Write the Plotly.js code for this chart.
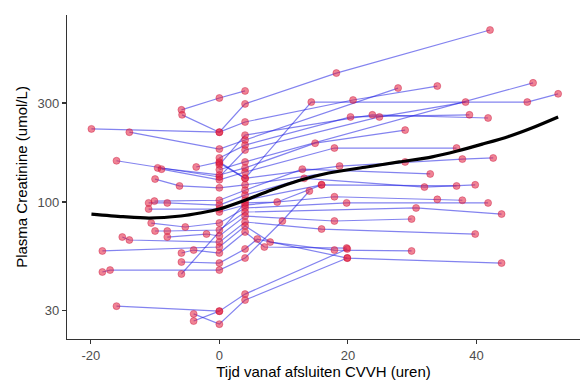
<!DOCTYPE html>
<html>
<head>
<meta charset="utf-8">
<script src="https://cdn.plot.ly/plotly-3.0.1.min.js"></script>
<style>html,body{margin:0;padding:0;background:#fff}#chart{width:580px;height:381px}</style>
</head>
<body>
<div id="chart"></div>
<script>
// Per-patient measurement times (hours from stopping CVVH)
var patientTimes = [
  [-5.9, 0, 4],
  [-5.8, 0, 4, 18.2, 42.1],
  [-19.9, 0, 4, 20.8, 33.9],
  [-14.0, 0, 4, 27.8],
  [0, 4, 14.3, 47.9, 52.7],
  [-16.0, 0, 4, 24.9, 38.3],
  [0, 4, 48.8],
  [0, 4, 20.4, 38.9],
  [0, 4, 23.8, 41.8],
  [-9.6, 0, 4, 14.9, 28.9],
  [-9.0, 0, 4, 17.9, 36.9],
  [-3.6, 0, 4, 18.7, 37.8, 42.6],
  [-10.0, -6.2, 0, 4, 28.9],
  [-10.1, 0, 4, 12.9, 32.8],
  [-11.0, -8.1, 0, 4, 13.2, 31.9, 39.8],
  [-11.0, 0, 4, 15.9, 36.9],
  [0, 4, 17.9, 33.9, 37.8],
  [-10.6, -5.3, 0, 4, 19.8, 41.8],
  [-10.0, -8.1, 0, 4, 30.6, 43.9],
  [-8.1, -2.0, 0, 4, 17.9, 29.9],
  [-15.1, -14.0, 0, 4, 15.9, 39.8],
  [-18.2, 0, 4, 7.9, 17.9, 29.9],
  [-5.9, -4.0, 0, 4, 7.0, 19.8],
  [-5.9, 0, 4, 5.9, 19.9, 43.9],
  [-18.2, -17.0, 0, 4, 9.8, 14.0],
  [-5.9, 4, 9.0, 15.9],
  [-16.0, 0, 4, 19.9],
  [-4.0, 0, 4, 19.9],
  [-4.0, 0]
];
// Per-patient plasma creatinine (umol/L)
var patientCreat = [
  [278, 317, 343],
  [263, 217, 297, 418, 674],
  [225, 217, 243, 310, 362],
  [217, 180, 199, 354],
  [154, 130, 303, 303, 332],
  [158, 132, 178, 257, 303],
  [143, 156, 375],
  [163, 188, 257, 263],
  [151, 210, 263, 254],
  [146, 135, 146, 192, 222],
  [144, 128, 139.5, 182, 182],
  [147.5, 156, 130, 149, 161, 163],
  [129, 119.5, 117, 121, 156],
  [101, 102, 114, 144, 136.5],
  [99, 99, 96.7, 108, 130, 118, 121],
  [92.5, 92.5, 102, 121, 119.5],
  [89.5, 96.7, 106, 103, 102],
  [79.2, 75.8, 79.2, 93.6, 99, 99],
  [72.5, 72.5, 73.3, 89.5, 93.6, 87.5],
  [67.8, 70.1, 68.6, 85.6, 81, 82.8],
  [67.8, 65.6, 64.1, 80.1, 74.1, 70.1],
  [58.1, 60.7, 76.6, 64.1, 58.7, 58.1],
  [56.8, 58.7, 56.8, 71.7, 60.7, 60.0],
  [51.4, 50.8, 59.4, 66.3, 53.7, 50.8],
  [46, 47, 47, 53.7, 81, 113],
  [45, 99, 100, 121],
  [31.5, 29.8, 36, 59.4],
  [28.9, 25.8, 33.7, 53.7],
  [26.7, 29.8]
];
// Smoothed trend
var smoothTime = [-19.9, -15, -10.9, -6, -3, 0, 4, 8, 12.4, 17, 22.9, 28, 33.1, 37, 40.9, 45, 48.7, 52.7];
var smoothCreat = [87.5, 85, 83.7, 85.6, 88.5, 92.5, 102, 114, 127, 138, 147.5, 156, 165, 176, 190, 207, 228, 257];

var xTicks = [-20, 0, 20, 40];
var xTickText = ['-20', '0', '20', '40'];
var yTicks = [30, 100, 300];
var yTickText = ['30', '100', '300'];

var traces = [];
for (var i = 0; i < patientTimes.length; i++) {
  traces.push({
    x: patientTimes[i], y: patientCreat[i], type: 'scatter', mode: 'lines',
    line: {color: 'rgba(30,30,225,0.55)', width: 1.2},
    hoverinfo: 'skip', showlegend: false
  });
}
for (var j = 0; j < patientTimes.length; j++) {
  traces.push({
    x: patientTimes[j], y: patientCreat[j], type: 'scatter', mode: 'markers',
    marker: {size: 7, color: 'rgba(228,30,60,0.55)', line: {color: 'rgba(200,20,60,0.5)', width: 0.8}},
    showlegend: false
  });
}
traces.push({
  x: smoothTime, y: smoothCreat, type: 'scatter', mode: 'lines',
  line: {color: '#000', width: 3.2, shape: 'spline', smoothing: 0.8},
  showlegend: false
});

var layout = {
  width: 580, height: 381,
  margin: {l: 67, r: 0, t: 15, b: 42},
  paper_bgcolor: '#fff', plot_bgcolor: '#fff',
  font: {family: 'Liberation Sans, Arial, sans-serif'},
  xaxis: {
    range: [-23.7, 56.1], tickvals: xTicks, ticktext: xTickText,
    showgrid: false, zeroline: false, showline: true, linecolor: '#333', linewidth: 1.2,
    ticks: 'outside', ticklen: 4, tickcolor: '#333', tickwidth: 1.1,
    tickfont: {size: 13, color: '#4d4d4d'},
    title: {text: 'Tijd vanaf afsluiten CVVH (uren)', font: {size: 15, color: '#000'}, standoff: 4}
  },
  yaxis: {
    type: 'log', range: [1.340, 2.901], tickvals: yTicks, ticktext: yTickText,
    showgrid: false, zeroline: false, showline: true, linecolor: '#333', linewidth: 1.2,
    ticks: 'outside', ticklen: 4, tickcolor: '#333', tickwidth: 1.1,
    tickfont: {size: 13, color: '#4d4d4d'},
    title: {text: 'Plasma Creatinine (umol/L)', font: {size: 15, color: '#000'}, standoff: 6}
  }
};
Plotly.newPlot('chart', traces, layout, {staticPlot: true, displayModeBar: false});
</script>
</body>
</html>
